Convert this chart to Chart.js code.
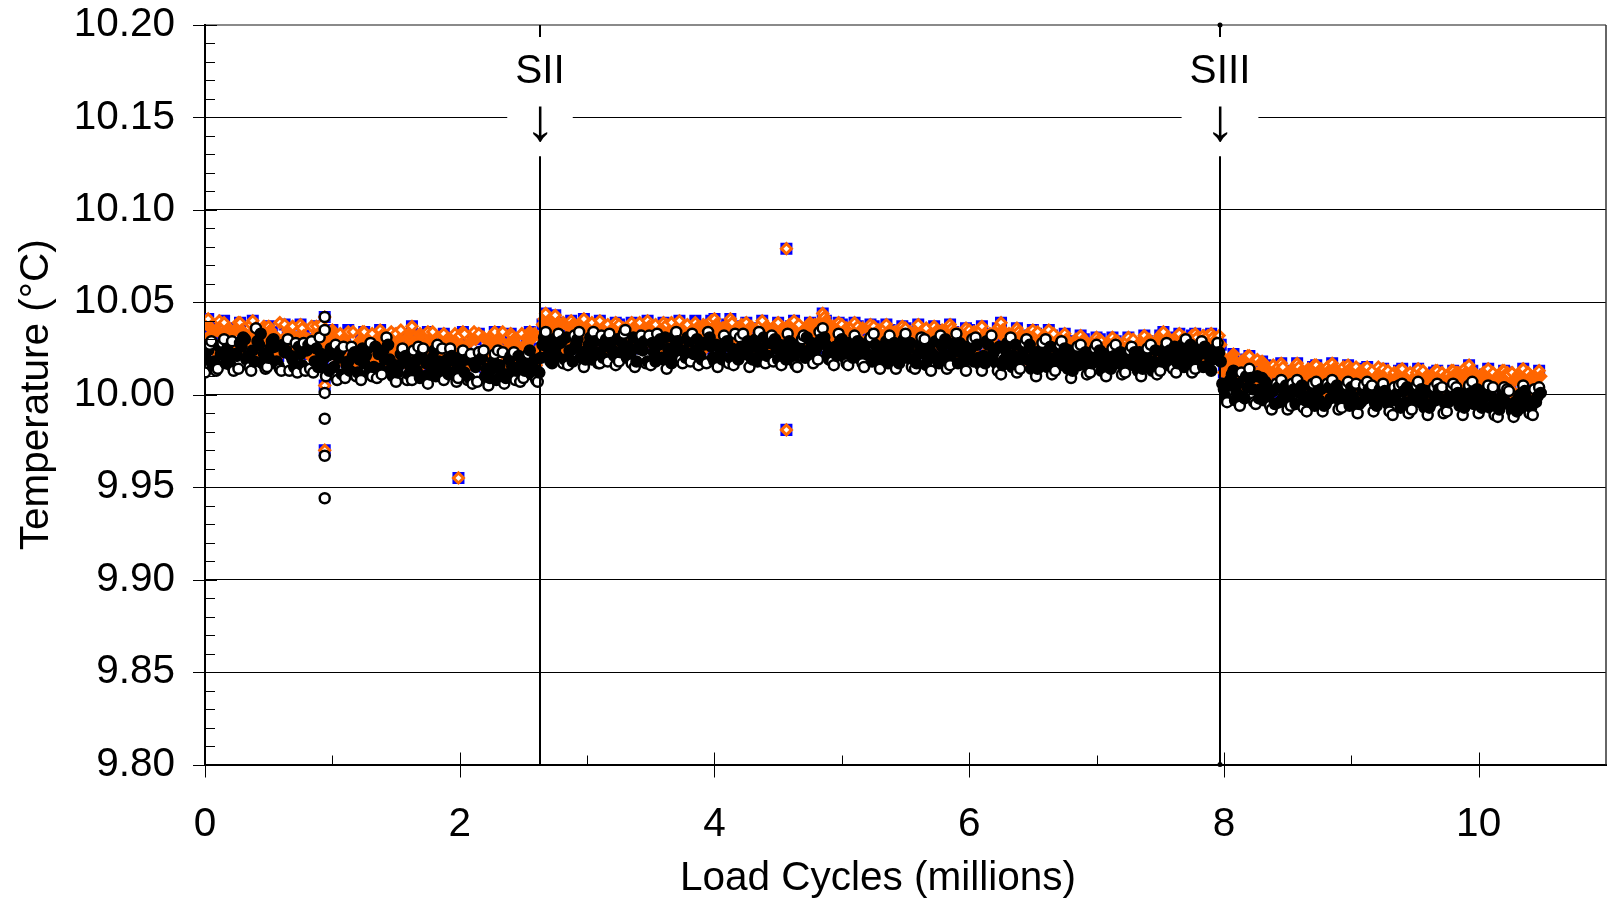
<!DOCTYPE html>
<html><head><meta charset="utf-8">
<script src="https://cdn.jsdelivr.net/npm/chart.js@4.4.0/dist/chart.umd.min.js"></script>
<style>html,body{margin:0;padding:0;background:#fff;overflow:hidden}#wrap{width:1611px;height:908px;position:relative}</style>
</head><body><div id="wrap"><canvas id="c"></canvas></div>
<script>
// Load cycles (millions), first set of readings
const cycles = [
0,0.025,0.05,0.075,0.1,0.125,0.15,0.175,0.2,0.225,
0.25,0.275,0.3,0.325,0.35,0.375,0.4,0.425,0.45,0.475,
0.5,0.525,0.55,0.575,0.6,0.625,0.65,0.675,0.7,0.725,
0.75,0.775,0.8,0.825,0.85,0.875,0.9,0.925,0.95,0.975,
1,1.025,1.05,1.075,1.1,1.125,1.15,1.175,1.2,1.225,
1.25,1.275,1.3,1.325,1.35,1.375,1.4,1.425,1.45,1.475,
1.5,1.525,1.55,1.575,1.6,1.625,1.65,1.675,1.7,1.725,
1.75,1.775,1.8,1.825,1.85,1.875,1.9,1.925,1.95,1.975,
2,2.025,2.05,2.075,2.1,2.125,2.15,2.175,2.2,2.225,
2.25,2.275,2.3,2.325,2.35,2.375,2.4,2.425,2.45,2.475,
2.5,2.525,2.55,2.575,2.6,2.625,2.65,2.675,2.7,2.725,
2.75,2.775,2.8,2.825,2.85,2.875,2.9,2.925,2.95,2.975,
3,3.025,3.05,3.075,3.1,3.125,3.15,3.175,3.2,3.225,
3.25,3.275,3.3,3.325,3.35,3.375,3.4,3.425,3.45,3.475,
3.5,3.525,3.55,3.575,3.6,3.625,3.65,3.675,3.7,3.725,
3.75,3.775,3.8,3.825,3.85,3.875,3.9,3.925,3.95,3.975,
4,4.025,4.05,4.075,4.1,4.125,4.15,4.175,4.2,4.225,
4.25,4.275,4.3,4.325,4.35,4.375,4.4,4.425,4.45,4.475,
4.5,4.525,4.55,4.575,4.6,4.625,4.65,4.675,4.7,4.725,
4.75,4.775,4.8,4.825,4.85,4.875,4.9,4.925,4.95,4.975,
5,5.025,5.05,5.075,5.1,5.125,5.15,5.175,5.2,5.225,
5.25,5.275,5.3,5.325,5.35,5.375,5.4,5.425,5.45,5.475,
5.5,5.525,5.55,5.575,5.6,5.625,5.65,5.675,5.7,5.725,
5.75,5.775,5.8,5.825,5.85,5.875,5.9,5.925,5.95,5.975,
6,6.025,6.05,6.075,6.1,6.125,6.15,6.175,6.2,6.225,
6.25,6.275,6.3,6.325,6.35,6.375,6.4,6.425,6.45,6.475,
6.5,6.525,6.55,6.575,6.6,6.625,6.65,6.675,6.7,6.725,
6.75,6.775,6.8,6.825,6.85,6.875,6.9,6.925,6.95,6.975,
7,7.025,7.05,7.075,7.1,7.125,7.15,7.175,7.2,7.225,
7.25,7.275,7.3,7.325,7.35,7.375,7.4,7.425,7.45,7.475,
7.5,7.525,7.55,7.575,7.6,7.625,7.65,7.675,7.7,7.725,
7.75,7.775,7.8,7.825,7.85,7.875,7.9,7.925,7.95,7.975,
8,8.025,8.05,8.075,8.1,8.125,8.15,8.175,8.2,8.225,
8.25,8.275,8.3,8.325,8.35,8.375,8.4,8.425,8.45,8.475,
8.5,8.525,8.55,8.575,8.6,8.625,8.65,8.675,8.7,8.725,
8.75,8.775,8.8,8.825,8.85,8.875,8.9,8.925,8.95,8.975,
9,9.025,9.05,9.075,9.1,9.125,9.15,9.175,9.2,9.225,
9.25,9.275,9.3,9.325,9.35,9.375,9.4,9.425,9.45,9.475,
9.5,9.525,9.55,9.575,9.6,9.625,9.65,9.675,9.7,9.725,
9.75,9.775,9.8,9.825,9.85,9.875,9.9,9.925,9.95,9.975,
10,10.025,10.05,10.075,10.1,10.125,10.15,10.175,10.2,10.225,
10.25,10.275,10.3,10.325,10.35,10.375,10.4,10.425,10.45,10.475
];
// Load cycles (millions), second set of readings (between the first)
const cycles2 = [
0.0125,0.0375,0.0625,0.0875,0.1125,0.1375,0.1625,0.1875,0.2125,0.2375,
0.2625,0.2875,0.3125,0.3375,0.3625,0.3875,0.4125,0.4375,0.4625,0.4875,
0.5125,0.5375,0.5625,0.5875,0.6125,0.6375,0.6625,0.6875,0.7125,0.7375,
0.7625,0.7875,0.8125,0.8375,0.8625,0.8875,0.9125,0.9375,0.9625,0.9875,
1.0125,1.0375,1.0625,1.0875,1.1125,1.1375,1.1625,1.1875,1.2125,1.2375,
1.2625,1.2875,1.3125,1.3375,1.3625,1.3875,1.4125,1.4375,1.4625,1.4875,
1.5125,1.5375,1.5625,1.5875,1.6125,1.6375,1.6625,1.6875,1.7125,1.7375,
1.7625,1.7875,1.8125,1.8375,1.8625,1.8875,1.9125,1.9375,1.9625,1.9875,
2.0125,2.0375,2.0625,2.0875,2.1125,2.1375,2.1625,2.1875,2.2125,2.2375,
2.2625,2.2875,2.3125,2.3375,2.3625,2.3875,2.4125,2.4375,2.4625,2.4875,
2.5125,2.5375,2.5625,2.5875,2.6125,2.6375,2.6625,2.6875,2.7125,2.7375,
2.7625,2.7875,2.8125,2.8375,2.8625,2.8875,2.9125,2.9375,2.9625,2.9875,
3.0125,3.0375,3.0625,3.0875,3.1125,3.1375,3.1625,3.1875,3.2125,3.2375,
3.2625,3.2875,3.3125,3.3375,3.3625,3.3875,3.4125,3.4375,3.4625,3.4875,
3.5125,3.5375,3.5625,3.5875,3.6125,3.6375,3.6625,3.6875,3.7125,3.7375,
3.7625,3.7875,3.8125,3.8375,3.8625,3.8875,3.9125,3.9375,3.9625,3.9875,
4.0125,4.0375,4.0625,4.0875,4.1125,4.1375,4.1625,4.1875,4.2125,4.2375,
4.2625,4.2875,4.3125,4.3375,4.3625,4.3875,4.4125,4.4375,4.4625,4.4875,
4.5125,4.5375,4.5625,4.5875,4.6125,4.6375,4.6625,4.6875,4.7125,4.7375,
4.7625,4.7875,4.8125,4.8375,4.8625,4.8875,4.9125,4.9375,4.9625,4.9875,
5.0125,5.0375,5.0625,5.0875,5.1125,5.1375,5.1625,5.1875,5.2125,5.2375,
5.2625,5.2875,5.3125,5.3375,5.3625,5.3875,5.4125,5.4375,5.4625,5.4875,
5.5125,5.5375,5.5625,5.5875,5.6125,5.6375,5.6625,5.6875,5.7125,5.7375,
5.7625,5.7875,5.8125,5.8375,5.8625,5.8875,5.9125,5.9375,5.9625,5.9875,
6.0125,6.0375,6.0625,6.0875,6.1125,6.1375,6.1625,6.1875,6.2125,6.2375,
6.2625,6.2875,6.3125,6.3375,6.3625,6.3875,6.4125,6.4375,6.4625,6.4875,
6.5125,6.5375,6.5625,6.5875,6.6125,6.6375,6.6625,6.6875,6.7125,6.7375,
6.7625,6.7875,6.8125,6.8375,6.8625,6.8875,6.9125,6.9375,6.9625,6.9875,
7.0125,7.0375,7.0625,7.0875,7.1125,7.1375,7.1625,7.1875,7.2125,7.2375,
7.2625,7.2875,7.3125,7.3375,7.3625,7.3875,7.4125,7.4375,7.4625,7.4875,
7.5125,7.5375,7.5625,7.5875,7.6125,7.6375,7.6625,7.6875,7.7125,7.7375,
7.7625,7.7875,7.8125,7.8375,7.8625,7.8875,7.9125,7.9375,7.9625,7.9875,
8.0125,8.0375,8.0625,8.0875,8.1125,8.1375,8.1625,8.1875,8.2125,8.2375,
8.2625,8.2875,8.3125,8.3375,8.3625,8.3875,8.4125,8.4375,8.4625,8.4875,
8.5125,8.5375,8.5625,8.5875,8.6125,8.6375,8.6625,8.6875,8.7125,8.7375,
8.7625,8.7875,8.8125,8.8375,8.8625,8.8875,8.9125,8.9375,8.9625,8.9875,
9.0125,9.0375,9.0625,9.0875,9.1125,9.1375,9.1625,9.1875,9.2125,9.2375,
9.2625,9.2875,9.3125,9.3375,9.3625,9.3875,9.4125,9.4375,9.4625,9.4875,
9.5125,9.5375,9.5625,9.5875,9.6125,9.6375,9.6625,9.6875,9.7125,9.7375,
9.7625,9.7875,9.8125,9.8375,9.8625,9.8875,9.9125,9.9375,9.9625,9.9875,
10.0125,10.0375,10.0625,10.0875,10.1125,10.1375,10.1625,10.1875,10.2125,10.2375,
10.2625,10.2875,10.3125,10.3375,10.3625,10.3875,10.4125,10.4375,10.4625,10.4875
];
// Temperature (°C), black circles, at cycles
const tempBlack = [
10.012,10.024,10.029,10.018,10.014,10.022,10.030,10.025,10.016,10.013,
10.021,10.028,10.031,10.019,10.015,10.024,10.036,10.027,10.017,10.014,
10.020,10.029,10.026,10.016,10.013,10.023,10.030,10.021,10.015,10.012,
10.022,10.028,10.024,10.014,10.012,10.025,10.031,10.019,10.010,10.013,
10.022,10.027,10.020,10.011,10.009,10.018,10.026,10.023,10.012,10.008,
10.017,10.025,10.028,10.015,10.009,10.014,10.024,10.031,10.019,10.010,
10.007,10.016,10.025,10.021,10.011,10.008,10.018,10.026,10.022,10.010,
10.006,10.015,10.024,10.027,10.013,10.008,10.019,10.025,10.012,10.007,
10.016,10.024,10.019,10.009,10.006,10.015,10.023,10.020,10.010,10.005,
10.014,10.022,10.024,10.012,10.006,10.011,10.021,10.023,10.013,10.007,
10.009,10.019,10.024,10.015,10.008,10.012,10.027,10.034,10.022,10.017,
10.025,10.033,10.029,10.019,10.016,10.024,10.032,10.030,10.020,10.015,
10.022,10.031,10.034,10.023,10.017,10.020,10.030,10.033,10.024,10.016,
10.018,10.028,10.035,10.026,10.017,10.015,10.025,10.032,10.029,10.018,
10.016,10.023,10.033,10.030,10.019,10.014,10.021,10.031,10.034,10.022,
10.017,10.020,10.029,10.033,10.024,10.016,10.019,10.028,10.034,10.026,
10.018,10.015,10.024,10.032,10.029,10.020,10.016,10.022,10.031,10.033,
10.023,10.015,10.019,10.030,10.034,10.025,10.017,10.021,10.032,10.030,
10.019,10.016,10.024,10.033,10.028,10.018,10.015,10.023,10.032,10.031,
10.021,10.017,10.025,10.034,10.036,10.027,10.019,10.018,10.026,10.033,
10.030,10.020,10.016,10.024,10.032,10.029,10.019,10.015,10.022,10.031,
10.033,10.023,10.014,10.019,10.029,10.032,10.021,10.014,10.017,10.027,
10.033,10.025,10.015,10.014,10.022,10.031,10.030,10.019,10.013,10.020,
10.029,10.032,10.022,10.014,10.016,10.026,10.033,10.028,10.017,10.013,
10.021,10.030,10.031,10.020,10.013,10.017,10.027,10.032,10.024,10.013,
10.011,10.019,10.028,10.031,10.021,10.012,10.014,10.024,10.030,10.027,
10.016,10.010,10.018,10.028,10.030,10.020,10.011,10.013,10.023,10.029,
10.025,10.014,10.009,10.017,10.026,10.027,10.018,10.011,10.012,10.021,
10.027,10.024,10.014,10.010,10.016,10.025,10.027,10.019,10.011,10.012,
10.021,10.026,10.023,10.013,10.010,10.017,10.025,10.027,10.018,10.011,
10.013,10.022,10.028,10.024,10.014,10.012,10.019,10.027,10.030,10.020,
10.012,10.014,10.023,10.029,10.026,10.016,10.013,10.021,10.028,10.018,
10.003,9.996,10.008,10.013,10.001,9.994,9.999,10.010,10.014,10.003,
9.995,9.998,10.009,10.007,9.999,9.992,9.995,10.004,10.008,10.000,
9.992,9.994,10.003,10.008,10.002,9.993,9.991,9.998,10.006,10.007,
9.997,9.991,9.995,10.004,10.008,10.001,9.992,9.993,10.002,10.007,
10.004,9.994,9.990,9.996,10.005,10.007,9.999,9.991,9.994,10.003,
10.006,10.000,9.991,9.989,9.997,10.005,10.006,9.996,9.990,9.992,
10.001,10.007,10.003,9.993,9.989,9.995,10.004,10.006,9.998,9.990,
9.991,10.000,10.006,10.004,9.994,9.989,9.996,10.005,10.007,9.997,
9.990,9.993,10.002,10.005,9.999,9.989,9.988,9.997,10.004,10.003,
9.994,9.988,9.991,10.000,10.005,9.998,9.990,9.989,9.996,10.004
];
// Temperature (°C), black circles, at cycles2
const tempBlack2 = [
10.019,10.027,10.015,10.013,10.026,10.028,10.017,10.020,10.029,10.022,
10.014,10.026,10.030,10.021,10.013,10.018,10.029,10.033,10.022,10.015,
10.025,10.030,10.018,10.014,10.027,10.024,10.013,10.019,10.028,10.026,
10.016,10.013,10.027,10.029,10.018,10.015,10.022,10.014,10.021,10.025,
10.015,10.008,10.024,10.026,10.016,10.013,10.021,10.010,10.019,10.025,
10.021,10.012,10.010,10.026,10.022,10.011,10.019,10.027,10.014,10.016,
10.012,10.022,10.019,10.008,10.015,10.024,10.013,10.009,10.025,10.017,
10.011,10.020,10.010,10.018,10.025,10.016,10.011,10.021,10.018,10.009,
10.021,10.012,10.008,10.022,10.017,10.007,10.019,10.024,10.014,10.009,
10.018,10.008,10.016,10.023,10.009,10.019,10.015,10.008,10.021,10.018,
10.013,10.022,10.011,10.019,10.007,10.020,10.031,10.026,10.018,10.030,
10.021,10.028,10.017,10.031,10.024,10.018,10.027,10.034,10.023,10.019,
10.027,10.019,10.029,10.017,10.032,10.026,10.018,10.028,10.021,10.030,
10.023,10.033,10.020,10.022,10.031,10.018,10.029,10.024,10.017,10.032,
10.028,10.018,10.027,10.020,10.031,10.025,10.017,10.026,10.029,10.019,
10.024,10.031,10.018,10.022,10.030,10.021,10.027,10.017,10.031,10.020,
10.027,10.021,10.019,10.028,10.017,10.025,10.033,10.019,10.026,10.022,
10.029,10.020,10.026,10.018,10.023,10.031,10.021,10.028,10.018,10.025,
10.027,10.021,10.019,10.029,10.023,10.016,10.027,10.030,10.020,10.024,
10.028,10.023,10.019,10.030,10.031,10.022,10.025,10.016,10.021,10.029,
10.025,10.017,10.028,10.020,10.027,10.023,10.017,10.027,10.029,10.018,
10.027,10.018,10.026,10.022,10.017,10.025,10.028,10.019,10.024,10.030,
10.020,10.028,10.019,10.017,10.027,10.024,10.016,10.025,10.022,10.029,
10.017,10.026,10.030,10.019,10.022,10.028,10.017,10.023,10.026,10.019,
10.025,10.018,10.027,10.016,10.021,10.029,10.019,10.022,10.017,10.026,
10.016,10.024,10.020,10.015,10.027,10.017,10.020,10.028,10.019,10.014,
10.023,10.014,10.024,10.021,10.015,10.026,10.017,10.019,10.027,10.016,
10.020,10.024,10.013,10.022,10.016,10.020,10.023,10.014,10.017,10.025,
10.018,10.013,10.022,10.019,10.014,10.021,10.017,10.023,10.015,10.019,
10.024,10.016,10.019,10.023,10.014,10.021,10.018,10.013,10.024,10.017,
10.018,10.025,10.016,10.020,10.026,10.017,10.023,10.015,10.024,10.027,
10.017,10.020,10.026,10.015,10.022,10.024,10.019,10.025,10.023,10.006,
9.999,10.005,10.011,9.997,10.006,10.012,9.998,10.004,10.009,9.996,
10.010,10.003,9.997,10.005,9.994,10.002,10.006,9.996,9.998,10.005,
9.998,10.006,9.995,10.001,10.005,9.997,9.999,10.004,9.994,10.002,
10.003,9.994,10.006,9.998,10.002,10.005,9.996,9.999,10.005,9.994,
9.999,10.006,9.995,10.002,9.998,10.003,10.005,9.995,10.001,9.997,
10.002,9.995,9.998,10.004,10.001,9.993,10.002,10.004,9.994,9.999,
10.005,9.996,9.999,10.002,9.993,10.001,9.997,10.003,10.004,9.995,
9.996,10.004,9.998,10.001,9.999,9.993,10.002,10.001,9.995,10.003,
9.995,9.998,10.000,9.993,10.004,9.994,9.992,10.001,9.996,10.002,
9.991,9.996,9.998,9.993,10.002,9.995,9.993,10.003,9.999,10.001
];
// Temperature (°C), orange diamonds, at cycles
const tempOrange = [
10.030,10.041,10.036,10.027,10.022,10.033,10.039,10.031,10.024,10.028,
10.036,10.039,10.029,10.023,10.032,10.040,10.034,10.025,10.022,10.030,
10.037,10.033,10.024,10.021,10.029,10.038,10.035,10.026,10.022,10.031,
10.038,10.032,10.023,10.021,10.030,10.037,10.027,10.019,10.024,10.033,
10.035,10.026,10.018,10.022,10.031,10.034,10.025,10.017,10.021,10.030,
10.034,10.027,10.018,10.020,10.029,10.035,10.028,10.019,10.017,10.026,
10.033,10.030,10.020,10.017,10.027,10.037,10.029,10.019,10.016,10.024,
10.034,10.031,10.021,10.016,10.023,10.033,10.030,10.020,10.015,10.022,
10.032,10.034,10.024,10.016,10.019,10.030,10.033,10.023,10.014,10.020,
10.029,10.034,10.026,10.016,10.015,10.025,10.033,10.030,10.019,10.014,
10.021,10.031,10.034,10.023,10.016,10.025,10.038,10.044,10.036,10.027,
10.043,10.039,10.028,10.024,10.032,10.040,10.034,10.025,10.029,10.041,
10.037,10.027,10.025,10.033,10.040,10.036,10.026,10.024,10.031,10.039,
10.038,10.028,10.024,10.030,10.039,10.037,10.027,10.025,10.033,10.040,
10.035,10.026,10.024,10.031,10.039,10.038,10.028,10.025,10.032,10.040,
10.036,10.027,10.024,10.030,10.039,10.037,10.027,10.025,10.033,10.040,
10.041,10.030,10.025,10.029,10.038,10.041,10.032,10.024,10.028,10.037,
10.039,10.031,10.024,10.027,10.036,10.040,10.033,10.025,10.026,10.035,
10.039,10.030,10.024,10.028,10.037,10.040,10.031,10.025,10.027,10.036,
10.039,10.032,10.025,10.036,10.044,10.040,10.029,10.024,10.030,10.039,
10.038,10.029,10.024,10.031,10.039,10.037,10.027,10.024,10.030,10.038,
10.037,10.028,10.023,10.030,10.038,10.035,10.026,10.022,10.029,10.037,
10.036,10.027,10.022,10.029,10.038,10.034,10.025,10.022,10.030,10.037,
10.035,10.026,10.022,10.031,10.038,10.034,10.025,10.021,10.028,10.036,
10.035,10.026,10.022,10.029,10.037,10.033,10.024,10.020,10.027,10.036,
10.039,10.031,10.021,10.020,10.029,10.036,10.032,10.022,10.019,10.028,
10.035,10.033,10.023,10.019,10.026,10.035,10.032,10.022,10.019,10.027,
10.033,10.029,10.020,10.018,10.025,10.032,10.030,10.021,10.018,10.024,
10.031,10.030,10.021,10.018,10.023,10.031,10.029,10.020,10.018,10.025,
10.031,10.028,10.020,10.019,10.026,10.032,10.029,10.021,10.019,10.026,
10.032,10.034,10.025,10.019,10.022,10.031,10.033,10.026,10.020,10.024,
10.032,10.033,10.025,10.020,10.024,10.032,10.033,10.026,10.029,10.027,
10.012,10.006,10.016,10.022,10.014,10.004,10.009,10.019,10.021,10.011,
10.004,10.008,10.018,10.016,10.007,10.001,10.006,10.015,10.017,10.009,
10.001,10.004,10.013,10.017,10.011,10.002,10.000,10.008,10.015,10.016,
10.007,10.000,10.004,10.013,10.017,10.010,10.001,10.003,10.012,10.016,
10.013,10.003,9.999,10.005,10.014,10.015,10.007,10.000,10.003,10.012,
10.014,10.009,9.999,9.998,10.006,10.013,10.014,10.005,9.999,10.002,
10.010,10.014,10.011,10.001,9.998,10.004,10.012,10.013,10.007,9.999,
10.000,10.009,10.013,10.012,10.003,9.998,10.005,10.016,10.013,10.006,
9.999,10.002,10.011,10.014,10.008,9.998,9.997,10.006,10.013,10.012,
10.003,9.997,10.000,10.009,10.014,10.008,9.999,9.998,10.006,10.013
];
// Temperature (°C), orange diamonds, at cycles2
const tempOrange2 = [
10.038,10.032,10.025,10.035,10.040,10.028,10.023,10.036,10.033,10.026,
10.039,10.035,10.026,10.029,10.038,10.031,10.024,10.034,10.037,10.027,
10.035,10.027,10.031,10.039,10.030,10.023,10.034,10.037,10.028,10.025,
10.036,10.026,10.030,10.037,10.025,10.033,10.038,10.024,10.028,10.034,
10.030,10.021,10.033,10.028,10.019,10.026,10.034,10.023,10.029,10.034,
10.022,10.031,10.033,10.024,10.018,10.032,10.023,10.030,10.034,10.021,
10.028,10.035,10.024,10.031,10.034,10.025,10.020,10.033,10.031,10.022,
10.029,10.034,10.025,10.019,10.032,10.026,10.018,10.029,10.033,10.021,
10.027,10.033,10.020,10.029,10.034,10.022,10.018,10.031,10.026,10.017,
10.033,10.022,10.030,10.034,10.021,10.028,10.032,10.018,10.026,10.033,
10.027,10.017,10.030,10.033,10.020,10.031,10.041,10.034,10.040,10.042,
10.036,10.031,10.039,10.027,10.036,10.038,10.029,10.037,10.040,10.031,
10.033,10.039,10.029,10.037,10.034,10.028,10.038,10.035,10.027,10.035,
10.033,10.036,10.029,10.038,10.033,10.031,10.039,10.028,10.036,10.037,
10.030,10.038,10.033,10.027,10.036,10.034,10.039,10.030,10.037,10.035,
10.031,10.038,10.028,10.036,10.035,10.030,10.038,10.029,10.037,10.036,
10.038,10.034,10.036,10.030,10.033,10.039,10.027,10.035,10.038,10.031,
10.035,10.037,10.028,10.036,10.038,10.030,10.037,10.034,10.029,10.038,
10.034,10.036,10.029,10.038,10.033,10.035,10.038,10.028,10.034,10.037,
10.035,10.038,10.030,10.040,10.042,10.034,10.031,10.037,10.035,10.036,
10.034,10.036,10.028,10.037,10.035,10.030,10.036,10.029,10.035,10.034,
10.033,10.035,10.027,10.036,10.032,10.030,10.034,10.027,10.033,10.035,
10.031,10.034,10.027,10.035,10.033,10.028,10.036,10.030,10.034,10.032,
10.030,10.035,10.028,10.034,10.036,10.029,10.033,10.031,10.035,10.032,
10.031,10.034,10.028,10.035,10.030,10.027,10.033,10.031,10.034,10.037,
10.035,10.027,10.033,10.031,10.025,10.034,10.030,10.026,10.033,10.031,
10.029,10.034,10.028,10.032,10.030,10.026,10.033,10.029,10.024,10.031,
10.030,10.027,10.024,10.030,10.028,10.023,10.029,10.026,10.022,10.029,
10.027,10.029,10.024,10.028,10.026,10.022,10.029,10.027,10.023,10.029,
10.026,10.030,10.024,10.028,10.029,10.023,10.030,10.025,10.027,10.030,
10.033,10.029,10.031,10.027,10.030,10.032,10.029,10.031,10.028,10.031,
10.029,10.031,10.028,10.032,10.030,10.027,10.031,10.030,10.032,10.018,
10.019,10.014,10.020,10.017,10.011,10.018,10.015,10.021,10.014,10.018,
10.019,10.013,10.016,10.010,10.014,10.016,10.011,10.013,10.015,10.009,
10.012,10.014,10.009,10.015,10.013,10.008,10.014,10.012,10.016,10.010,
10.014,10.011,10.015,10.009,10.014,10.013,10.008,10.015,10.011,10.014,
10.010,10.015,10.012,10.008,10.014,10.011,10.013,10.009,10.015,10.010,
10.011,10.013,10.007,10.012,10.010,10.013,10.008,10.011,10.012,10.006,
10.012,10.009,10.013,10.010,10.006,10.011,10.013,10.008,10.012,10.010,
10.011,10.013,10.007,10.012,10.010,10.014,10.013,10.009,10.012,10.010,
10.008,10.012,10.010,10.006,10.012,10.009,10.011,10.013,10.007,10.011,
10.012,10.008,10.011,10.013,10.009,10.012,10.010,10.007,10.012,10.010
];
// Temperature (°C), blue squares, at cycles
const tempBlue = [
10.031,10.041,10.036,10.026,10.022,10.033,10.040,10.031,10.024,10.028,
10.036,10.039,10.030,10.023,10.032,10.040,10.034,10.025,10.023,10.030,
10.037,10.034,10.024,10.021,10.029,10.038,10.035,10.026,10.022,10.031,
10.038,10.032,10.023,10.022,10.030,10.037,10.027,10.019,10.024,10.033,
10.035,10.026,10.018,10.022,10.031,10.035,10.025,10.017,10.021,10.030,
10.034,10.027,10.019,10.020,10.029,10.035,10.028,10.019,10.017,10.026,
10.033,10.030,10.020,10.017,10.027,10.037,10.029,10.020,10.016,10.024,
10.034,10.031,10.021,10.016,10.023,10.033,10.031,10.020,10.015,10.022,
10.032,10.034,10.024,10.016,10.019,10.030,10.033,10.023,10.015,10.020,
10.029,10.034,10.026,10.016,10.015,10.025,10.033,10.030,10.019,10.014,
10.021,10.031,10.034,10.023,10.016,10.025,10.038,10.044,10.036,10.027,
10.043,10.039,10.028,10.024,10.032,10.040,10.035,10.025,10.029,10.041,
10.037,10.027,10.025,10.033,10.040,10.036,10.026,10.024,10.031,10.039,
10.038,10.028,10.024,10.030,10.039,10.037,10.027,10.025,10.033,10.040,
10.035,10.026,10.024,10.031,10.039,10.038,10.028,10.025,10.032,10.040,
10.036,10.027,10.024,10.030,10.040,10.037,10.027,10.025,10.033,10.040,
10.041,10.030,10.025,10.029,10.038,10.041,10.032,10.024,10.028,10.037,
10.039,10.031,10.024,10.027,10.036,10.040,10.033,10.025,10.026,10.035,
10.039,10.030,10.024,10.028,10.037,10.040,10.031,10.025,10.027,10.036,
10.039,10.032,10.025,10.036,10.044,10.040,10.029,10.024,10.030,10.039,
10.038,10.029,10.024,10.031,10.039,10.037,10.027,10.024,10.030,10.038,
10.037,10.028,10.023,10.030,10.038,10.035,10.026,10.022,10.029,10.037,
10.036,10.027,10.022,10.029,10.038,10.034,10.025,10.022,10.030,10.037,
10.035,10.026,10.022,10.031,10.038,10.034,10.025,10.021,10.028,10.036,
10.035,10.026,10.022,10.029,10.037,10.033,10.024,10.020,10.027,10.036,
10.039,10.031,10.021,10.020,10.029,10.036,10.032,10.022,10.019,10.028,
10.035,10.033,10.023,10.019,10.026,10.035,10.032,10.022,10.019,10.027,
10.033,10.029,10.020,10.018,10.025,10.032,10.030,10.021,10.018,10.024,
10.031,10.030,10.021,10.018,10.023,10.031,10.029,10.020,10.018,10.025,
10.031,10.028,10.020,10.019,10.026,10.032,10.029,10.021,10.019,10.026,
10.032,10.034,10.025,10.019,10.022,10.031,10.033,10.026,10.020,10.024,
10.032,10.033,10.025,10.020,10.024,10.032,10.033,10.026,10.029,10.027,
10.012,10.006,10.016,10.022,10.014,10.004,10.009,10.019,10.021,10.011,
10.004,10.008,10.018,10.016,10.007,10.001,10.006,10.015,10.017,10.009,
10.001,10.004,10.013,10.017,10.011,10.002,10.000,10.008,10.015,10.016,
10.007,10.000,10.004,10.013,10.017,10.010,10.001,10.003,10.012,10.016,
10.013,10.003,9.999,10.005,10.014,10.015,10.007,10.000,10.003,10.012,
10.014,10.009,9.999,9.998,10.006,10.013,10.014,10.005,9.999,10.002,
10.010,10.014,10.011,10.001,9.998,10.004,10.012,10.013,10.007,9.999,
10.000,10.009,10.013,10.012,10.003,9.998,10.005,10.016,10.013,10.006,
9.999,10.002,10.011,10.014,10.008,9.998,9.997,10.006,10.013,10.012,
10.003,9.997,10.000,10.009,10.014,10.008,9.999,9.998,10.006,10.013
];
// isolated readings
const blackOutCycles = [0.94,0.94,0.94,0.94,0.94,0.94];
const blackOutTemp   = [10.042,10.035,10.001,9.987,9.967,9.944];
const orangeOutCycles = [0.94,0.94,0.94,1.99,4.565,4.565];
const orangeOutTemp   = [10.042,10.005,9.970,9.955,10.079,9.981];
const blueOutCycles = [0.94,0.94,0.94,1.99,4.565,4.565];
const blueOutTemp   = [10.042,10.005,9.970,9.955,10.079,9.981];

const xTickValues = [0,2,4,6,8,10];
const xMinorTicks = [1,3,5,7,9];
const yTickValues = [9.80,9.85,9.90,9.95,10.00,10.05,10.10,10.15,10.20];
const markerCycles = [2.63,7.97];
const markerLabels = ['SII','SIII'];
const markerDots = [false,true];
const xTitle = 'Load Cycles (millions)';
const yTitle = 'Temperature (°C)';

const FONT = '"Liberation Sans", Arial, Helvetica, sans-serif';
const FS = 40.5;
function seg(ctx,x1,y1,x2,y2){ ctx.beginPath(); ctx.moveTo(x1,y1); ctx.lineTo(x2,y2); ctx.stroke(); }

// merge the two sets of readings in cycle order
function mergeSeries(xa, ya, xb, yb){
  const out = [];
  for (let i = 0; i < xa.length; i++) { out.push({x: xa[i], y: ya[i]}); out.push({x: xb[i], y: yb[i]}); }
  return out;
}
const blackPts = mergeSeries(cycles, tempBlack, cycles2, tempBlack2);
const orangePts = mergeSeries(cycles, tempOrange, cycles2, tempOrange2);
const bluePts = cycles.map((x,i)=>({x:x, y:tempBlue[i]}));
// overplotted hollow markers: only those on the edge of the band keep a visible hollow centre
function edgeFlags(p, w, tol, both){
  return p.map((pt,i)=>{
    let mx = -Infinity, mn = Infinity;
    for (let k = Math.max(0,i-w); k <= Math.min(p.length-1,i+w); k++) { mx = Math.max(mx, p[k].y); mn = Math.min(mn, p[k].y); }
    return pt.y >= mx - tol || (both && pt.y <= mn + tol);
  });
}
const blackEdge = edgeFlags(blackPts, 8, 0.0025, true);
const orangeEdge = edgeFlags(orangePts, 8, 0.0025, false);
const blackData = blackPts.concat(blackOutCycles.map((x,i)=>({x:x, y:blackOutTemp[i]})));
const orangeData = orangePts.concat(orangeOutCycles.map((x,i)=>({x:x, y:orangeOutTemp[i]})));
const blueData = bluePts.concat(blueOutCycles.map((x,i)=>({x:x, y:blueOutTemp[i]})));

const markerPlugin = {
  id:'markers',
  afterDatasetsDraw(chart){
    const ctx = chart.ctx, xs = chart.scales.x, ys = chart.scales.y, ca = chart.chartArea;
    markerCycles.forEach((mx,i)=>{
      const px = Math.round(xs.getPixelForValue(mx));
      const lineTop = ys.getPixelForValue(10.129);
      ctx.save();
      ctx.font = FS + 'px ' + FONT;
      const w = ctx.measureText(markerLabels[i]).width;
      ctx.fillStyle = '#fff';
      ctx.fillRect(px - w/2 - 8, ca.top + 13, w + 16, lineTop - ca.top - 13);
      ctx.strokeStyle = '#000'; ctx.lineWidth = 2;
      seg(ctx, px, ys.getPixelForValue(9.80), px, lineTop);
      seg(ctx, px, ca.top, px, ca.top + 12);
      ctx.fillStyle = '#000'; ctx.textAlign = 'center'; ctx.textBaseline = 'middle';
      ctx.fillText(markerLabels[i], px, ca.top + 47);
      ctx.font = '60px ' + FONT;
      ctx.fillText('\u2193', px, ca.top + 98);
      if (markerDots[i]) {
        [10.20, 9.80].forEach(v=>{ ctx.beginPath(); ctx.arc(px, ys.getPixelForValue(v), 2.5, 0, Math.PI*2); ctx.fill(); });
      }
      ctx.restore();
    });
  }
};

const tickPlugin = {
  id:'tickmarks',
  afterDraw(chart){
    const ctx = chart.ctx, xs = chart.scales.x, ys = chart.scales.y, ca = chart.chartArea;
    ctx.save();
    ctx.strokeStyle = '#000'; ctx.lineWidth = 1;
    yTickValues.forEach(v=>{ const p = Math.round(ys.getPixelForValue(v)) + 0.5; seg(ctx, ca.left - 12, p, ca.left + 12, p); });
    for (let k = 1; k < 40; k++) {
      if (k % 5 === 0) continue;
      const p = Math.round(ys.getPixelForValue(9.80 + k*0.01)) + 0.5;
      seg(ctx, ca.left, p, ca.left + 10, p);
    }
    xTickValues.forEach(v=>{ const p = Math.round(xs.getPixelForValue(v)) + 0.5; seg(ctx, p, ca.bottom - 12, p, ca.bottom + 13); });
    xMinorTicks.forEach(v=>{ const p = Math.round(xs.getPixelForValue(v)) + 0.5; seg(ctx, p, ca.bottom - 9, p, ca.bottom); });
    ctx.strokeStyle = '#333'; ctx.lineWidth = 1.5;
    seg(ctx, ca.right, ca.top, ca.right, ca.bottom);
    // x axis title
    ctx.fillStyle = '#000'; ctx.font = FS + 'px ' + FONT; ctx.textAlign = 'center'; ctx.textBaseline = 'middle';
    ctx.fillText(xTitle, (ca.left + ca.right) / 2 - 27.5, 878.5);
    ctx.restore();
  }
};

new Chart(document.getElementById('c'), {
  type: 'scatter',
  data: {
    datasets: [
      { label:'Black', data: blackData,
        pointStyle:'circle', pointRadius:5, pointHoverRadius:5, pointBorderWidth:2.5,
        borderColor:'#000', backgroundColor:'#fff', pointBorderColor:'#000',
        pointBackgroundColor: c => (c.dataIndex >= blackEdge.length || blackEdge[c.dataIndex]) ? '#fff' : '#000' },
      { label:'Orange', data: orangeData,
        pointStyle:'rectRot', pointRadius:5, pointHoverRadius:5, pointBorderWidth:3,
        borderColor:'#FF6600', backgroundColor:'#fff', pointBorderColor:'#FF6600',
        pointBackgroundColor: c => (c.dataIndex >= orangeEdge.length || orangeEdge[c.dataIndex]) ? '#fff' : '#FF6600' },
      { label:'Blue', data: blueData,
        pointStyle:'rect', pointRadius:8.5, pointHoverRadius:8.5, pointBorderWidth:0,
        borderColor:'#0000FF', backgroundColor:'#0000FF', pointBorderColor:'#0000FF', pointBackgroundColor:'#0000FF' }
    ]
  },
  options: {
    responsive: true, maintainAspectRatio: false, animation: false,
    layout: { autoPadding: false, padding: { left: 0, right: 5, top: 25, bottom: 0 } },
    plugins: { legend: { display: false }, tooltip: { enabled: false } },
    scales: {
      x: {
        type: 'linear', min: 0, max: 11,
        afterBuildTicks: s => { s.ticks = xTickValues.map(v => ({ value: v })); },
        afterFit: s => { s.height = 143.5; s.paddingLeft = 0; s.paddingRight = 0; },
        grid: { drawOnChartArea: false, drawTicks: false },
        border: { color: '#000', width: 2 },
        ticks: { font: { family: FONT, size: FS }, color: '#000', padding: 36, maxRotation: 0, autoSkip: false, callback: v => String(v) },
        title: { display: false, text: xTitle }
      },
      y: {
        min: 9.8, max: 10.2,
        afterBuildTicks: s => { s.ticks = yTickValues.map(v => ({ value: v })); },
        afterFit: s => { s.width = 205; s.paddingTop = 0; s.paddingBottom = 0; },
        grid: {
          drawTicks: false,
          color: c => (c.tick && Math.abs(c.tick.value - 10.2) < 1e-6) ? '#8a8a8a' : '#000',
          lineWidth: c => (c.tick && Math.abs(c.tick.value - 10.2) < 1e-6) ? 2 : 1
        },
        border: { color: '#000', width: 2 },
        ticks: { font: { family: FONT, size: FS }, color: '#000', padding: 30, autoSkip: false, callback: v => Number(v).toFixed(2) },
        title: { display: true, text: yTitle, font: { family: FONT, size: FS }, color: '#000', padding: { top: 13, bottom: 0 } }
      }
    }
  },
  plugins: [markerPlugin, tickPlugin]
});
</script>
</body></html>
